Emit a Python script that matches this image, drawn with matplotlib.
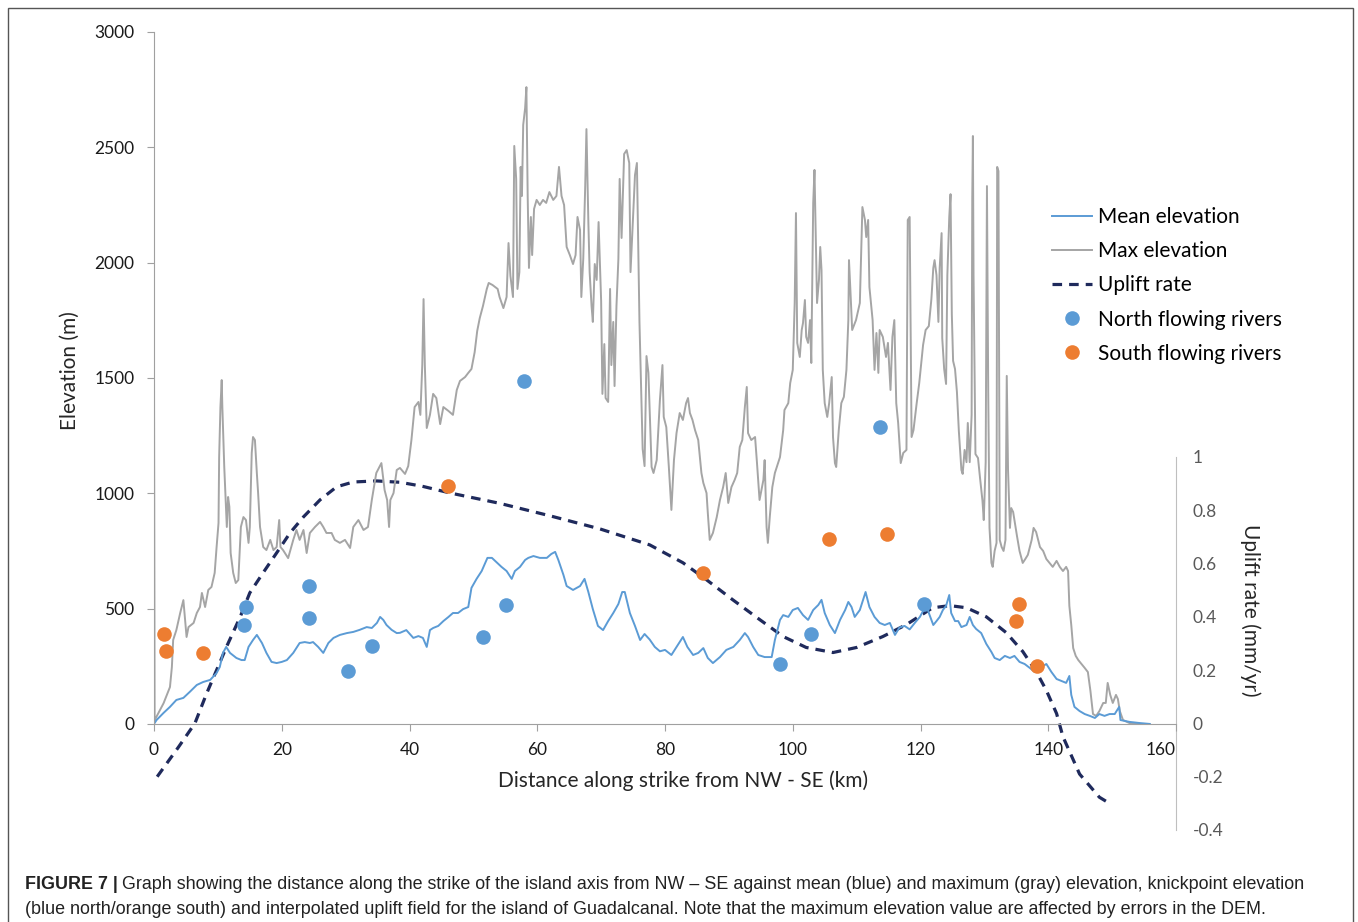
import matplotlib.pyplot as plt
from matplotlib.patches import Rectangle
from matplotlib.ticker import FuncFormatter

plt.rcParams['font.family'] = ['Lato', 'DejaVu Sans']

# distance along strike (km) / maximum elevation (m)
max_km = [0.0, 0.1, 0.4, 1.5, 2.5, 2.8, 3.0, 3.5, 4.1, 4.6, 4.9, 5.1, 5.4, 6.2, 6.7, 7.2, 7.5, 8.0, 8.5, 9.0,
          9.5, 9.8, 10.1, 10.2, 10.4, 10.6, 10.7, 11.0, 11.4, 11.6, 11.8, 12.0, 12.4, 12.8, 13.2, 13.6, 14.0, 14.4,
          14.8, 15.0, 15.3, 15.5, 15.8, 16.1, 16.3, 16.6, 17.1, 17.6, 18.2, 18.7, 19.2, 19.6, 19.8, 20.2, 21.0,
          21.8, 22.3, 22.8, 23.4, 23.9, 24.4, 25.2, 26.0, 26.5, 27.0, 27.8, 28.3, 29.1, 29.9, 30.7, 31.2, 32.0,
          32.8, 33.5, 34.1, 34.8, 35.6, 36.1, 36.5, 36.8, 37.0, 37.5, 38.0, 38.5, 39.3, 39.8, 40.3, 40.8, 41.4,
          41.7, 42.0, 42.2, 42.4, 42.7, 43.2, 43.7, 44.2, 44.8, 45.3, 46.1, 46.8, 47.4, 47.9, 48.7, 49.2, 49.7,
          50.2, 50.6, 51.0, 51.5, 52.1, 52.4, 53.0, 53.8, 54.1, 54.7, 55.2, 55.5, 55.8, 56.2, 56.4, 56.7, 56.9,
          57.2, 57.4, 57.6, 57.8, 58.1, 58.3, 58.5, 58.7, 59.0, 59.2, 59.5, 59.9, 60.4, 60.9, 61.4, 61.9, 62.5,
          63.0, 63.4, 63.8, 64.2, 64.6, 65.1, 65.6, 66.0, 66.3, 66.7, 66.9, 67.2, 67.5, 67.7, 68.0, 68.2, 68.5,
          68.7, 69.0, 69.3, 69.6, 70.0, 70.2, 70.5, 70.7, 71.1, 71.4, 71.6, 71.9, 72.1, 72.4, 72.7, 72.9, 73.2,
          73.6, 74.0, 74.4, 74.6, 74.9, 75.3, 75.6, 76.0, 76.2, 76.5, 76.8, 77.1, 77.4, 77.7, 77.9, 78.2, 78.7,
          79.2, 79.6, 79.8, 80.2, 80.6, 81.0, 81.4, 81.8, 82.3, 82.8, 83.3, 83.6, 83.9, 84.3, 84.7, 85.2, 85.4,
          85.7, 86.0, 86.5, 86.7, 87.0, 87.5, 88.1, 88.6, 89.1, 89.5, 89.9, 90.4, 90.9, 91.3, 91.7, 92.1, 92.5,
          92.8, 93.0, 93.5, 94.1, 94.4, 94.8, 95.4, 95.6, 95.9, 96.1, 96.4, 96.8, 97.2, 98.0, 98.5, 98.7, 99.3,
          99.6, 100.0, 100.3, 100.5, 100.7, 101.1, 101.4, 101.6, 101.9, 102.1, 102.4, 102.7, 102.9, 103.2, 103.4,
          103.6, 103.8, 104.1, 104.3, 104.5, 104.7, 105.0, 105.4, 105.7, 106.1, 106.3, 106.6, 106.8, 107.2, 107.6,
          108.0, 108.4, 108.7, 108.8, 109.0, 109.3, 109.9, 110.5, 110.7, 110.9, 111.3, 111.5, 111.8, 112.0, 112.5,
          112.8, 113.1, 113.4, 113.6, 114.1, 114.6, 114.9, 115.3, 115.6, 115.9, 116.2, 116.5, 116.9, 117.3, 117.8,
          118.0, 118.3, 118.6, 118.9, 119.4, 119.8, 120.4, 120.8, 121.3, 121.7, 122.0, 122.2, 122.5, 122.8, 123.0,
          123.3, 123.4, 123.7, 124.0, 124.2, 124.5, 124.7, 124.9, 125.1, 125.4, 125.7, 126.0, 126.4, 126.6, 126.9,
          127.2, 127.4, 127.7, 128.0, 128.1, 128.2, 128.3, 128.6, 129.0, 129.3, 129.7, 129.9, 130.2, 130.4, 130.6,
          130.8, 131.1, 131.3, 131.6, 131.9, 132.0, 132.2, 132.4, 132.7, 133.0, 133.3, 133.5, 133.7, 134.0, 134.2,
          134.5, 134.7, 135.1, 135.5, 136.0, 136.4, 136.8, 137.4, 137.7, 138.1, 138.7, 139.2, 139.7, 140.2, 140.7,
          141.3, 141.8, 142.3, 142.8, 143.1, 143.3, 143.6, 143.9, 144.3, 144.7, 145.2, 145.7, 146.2, 146.6, 147.0,
          147.5, 148.0, 148.6, 149.0, 149.3, 149.7, 150.1, 150.6, 150.9, 151.2, 151.7, 152.7, 154.3]
max_elev = [1570, 15, 32, 90, 160, 247, 364, 407, 481, 537, 438, 377, 420, 438, 481, 507, 568, 507, 581, 594,
            655, 767, 871, 1157, 1374, 1491, 1374, 1114, 854, 984, 941, 741, 655, 611, 624, 854, 897, 884,
            785, 854, 1175, 1244, 1231, 1088, 1001, 854, 767, 754, 798, 754, 767, 884, 767, 754, 719,
            798, 841, 798, 841, 741, 828, 854, 876, 854, 828, 828, 798, 785, 798, 763, 854, 884,
            841, 854, 971, 1088, 1131, 1014, 971, 854, 971, 1001, 1101, 1110, 1084, 1118, 1231, 1374, 1396,
            1340, 1556, 1842, 1556, 1283, 1340, 1431, 1413, 1300, 1374, 1357, 1340, 1448, 1487, 1504, 1522, 1539,
            1612, 1704, 1760, 1812, 1886, 1912, 1903, 1886, 1851, 1803, 1851, 2085, 1942, 1851, 2506, 2363, 1886,
            1959, 2415, 2289, 2597, 2670, 2761, 2289, 1977, 2198, 2033, 2233, 2272, 2250, 2272, 2259, 2306, 2272,
            2289, 2415, 2289, 2250, 2068, 2033, 1994, 2033, 2198, 2141, 1851, 2016, 2324, 2579, 2176, 1959, 1812,
            1743, 1994, 1925, 2176, 1834, 1431, 1647, 1413, 1396, 1886, 1556, 1743, 1465, 1812, 2016, 2363, 2107,
            2471, 2488, 2432, 1959, 2141, 2380, 2432, 1743, 1522, 1192, 1118, 1595, 1522, 1283, 1114, 1088, 1144,
            1404, 1556, 1331, 1287, 1114, 928, 1144, 1261, 1348, 1318, 1391, 1413, 1348, 1318, 1274, 1231, 1175,
            1088, 1045, 1001, 915, 798, 828, 897, 971, 1027, 1088, 958, 1027, 1058, 1088, 1201, 1231, 1374,
            1461, 1261, 1231, 1244, 1131, 971, 1058, 1144, 854, 785, 897, 1027, 1088, 1157, 1274, 1361, 1391,
            1478, 1535, 1825, 2215, 1652, 1591, 1708, 1738, 1838, 1678, 1652, 1751, 1565, 2258, 2402,
            2111, 1825, 1925, 2068, 1968, 1535, 1391, 1331, 1391, 1504, 1244, 1131, 1114, 1274, 1391,
            1418, 1535, 1751, 2011, 1894, 1708, 1751, 1825, 2042, 2241, 2185, 2111, 2185, 1894, 1751,
            1535, 1695, 1522, 1708, 1678, 1591, 1652, 1448, 1678, 1751, 1391, 1305, 1131, 1175, 1188,
            2185, 2198, 1244, 1274, 1391, 1478, 1643, 1708, 1725, 1842, 1977, 2011, 1946, 1743, 1977,
            2128, 1673, 1539, 1474, 1946, 2198, 2297, 1777, 1574, 1539, 1439, 1270, 1101, 1084, 1188,
            1135, 1305, 1135, 1340, 2280, 2549, 1946, 1170, 1153, 1071, 967, 884, 1135, 2332, 1439,
            850, 698, 681, 750, 785, 2415, 2397, 798, 767, 750, 798, 1509, 1101, 850, 936,
            919, 884, 815, 750, 698, 715, 733, 798, 850, 832, 767, 750, 715, 698, 681,
            707, 681, 663, 681, 663, 512, 429, 329, 295, 277, 260, 243, 225, 143, 43,
            35, 56, 91, 91, 178, 126, 91, 126, 108, 56, 17, 4, 0]

# distance along strike (km) / mean elevation (m)
mean_km = [0.0, 0.4, 1.5, 2.5, 3.5, 4.6, 5.6, 6.7, 7.7, 8.8, 9.8, 10.3, 10.8, 11.3, 11.9, 12.9, 13.7, 14.2,
           14.8, 15.5, 16.1, 16.9, 17.6, 18.4, 19.2, 20.0, 20.8, 21.8, 22.8, 23.6, 24.4, 24.9, 25.7, 26.5,
           27.3, 28.1, 29.1, 30.2, 31.2, 32.2, 33.3, 34.1, 34.9, 35.4, 35.9, 36.4, 37.2, 38.0, 38.5, 39.5,
           40.6, 41.4, 42.1, 42.7, 43.2, 43.7, 44.5, 45.3, 46.1, 46.8, 47.6, 48.4, 49.2, 49.7, 50.5, 51.3,
           52.2, 52.9, 53.6, 54.4, 55.2, 56.0, 56.5, 57.3, 58.1, 58.6, 59.4, 60.4, 61.5, 62.2, 62.8, 63.3,
           64.1, 64.6, 65.6, 66.7, 67.4, 68.0, 68.7, 69.5, 70.3, 71.1, 71.9, 72.7, 73.3, 73.7, 74.5, 75.3,
           76.1, 76.8, 77.6, 78.4, 79.2, 80.0, 81.0, 81.8, 82.8, 83.5, 84.4, 85.2, 86.0, 86.7, 87.5, 88.6,
           89.6, 90.7, 91.7, 92.5, 93.0, 93.8, 94.6, 95.6, 96.7, 97.2, 98.0, 98.5, 99.3, 100.0, 100.8, 101.6,
           102.4, 103.2, 104.0, 104.5, 105.0, 105.8, 106.6, 107.4, 108.2, 108.7, 109.2, 109.7, 110.5, 111.0,
           111.4, 112.0, 112.8, 113.6, 114.4, 115.2, 116.0, 116.7, 117.5, 118.3, 119.1, 119.9, 120.4, 120.8,
           121.3, 122.0, 122.5, 123.0, 123.5, 124.0, 124.5, 124.8, 125.4, 125.9, 126.4, 127.2, 127.7, 128.2,
           128.7, 129.5, 130.3, 131.1, 131.6, 132.4, 133.2, 134.0, 134.7, 135.5, 136.3, 137.1, 137.9, 138.7,
           139.7, 140.5, 141.3, 142.1, 142.8, 143.3, 143.6, 144.1, 144.9, 145.7, 146.5, 147.3, 148.0, 148.8,
           149.6, 150.4, 151.1, 151.3, 152.7, 154.3, 155.9]
mean_elev = [0, 17, 48, 74, 104, 113, 139, 169, 182, 191, 221, 247, 308, 334, 308, 286, 277, 277,
             334, 364, 386, 351, 308, 269, 264, 269, 277, 308, 351, 355, 351, 355, 334, 308,
             351, 373, 386, 394, 399, 408, 420, 416, 438, 464, 451, 429, 408, 394, 395, 407,
             373, 381, 373, 334, 407, 416, 425, 446, 464, 481, 481, 498, 507, 590, 629, 663,
             720, 720, 702, 681, 663, 629, 663, 681, 711, 720, 728, 720, 720, 737, 746, 711,
             646, 598, 581, 598, 629, 572, 498, 425, 407, 446, 481, 520, 572, 572, 481, 425,
             364, 390, 366, 334, 315, 321, 299, 334, 377, 334, 299, 308, 329, 286, 264, 290,
             321, 334, 364, 394, 377, 334, 299, 290, 290, 364, 451, 472, 464, 494, 503, 472,
             451, 494, 516, 538, 481, 429, 394, 451, 494, 529, 507, 464, 494, 538,
             572, 507, 464, 438, 429, 438, 386, 418, 425, 410, 438, 464, 490, 529,
             481, 429, 446, 464, 494, 512, 559, 481, 446, 446, 420, 429, 464, 429,
             412, 394, 347, 312, 286, 277, 295, 286, 295, 269, 260, 243, 225, 243,
             260, 225, 195, 186, 178, 208, 126, 74, 56, 43, 35, 26, 43, 35,
             43, 43, 74, 17, 9, 4, 0]

# interpolated uplift field (mm/yr)
uplift_km = [0.5, 3.8, 6.4, 8.2, 9.8, 11.4, 13.5, 15.0, 17.1, 19.2, 21.3, 23.4, 26.0, 28.6, 31.2, 34.8,
             38.5, 42.0, 46.3, 54.1, 62.0, 69.8, 77.6, 82.8, 86.5, 90.6, 94.8, 98.5, 102.1, 106.3, 110.0,
             114.1, 117.8, 121.9, 124.6, 127.2, 130.3, 133.4, 136.0, 138.1, 139.7, 141.3, 142.3, 144.9,
             148.0, 149.3]
uplift_rate = [-0.20, -0.09, 0.0, 0.11, 0.20, 0.29, 0.40, 0.49, 0.566, 0.64, 0.715, 0.775, 0.839, 0.888,
               0.906, 0.91, 0.905, 0.89, 0.865, 0.826, 0.779, 0.73, 0.67, 0.603, 0.539, 0.464, 0.39,
               0.326, 0.285, 0.266, 0.285, 0.326, 0.371, 0.434, 0.442, 0.434, 0.40, 0.341, 0.27, 0.195,
               0.124, 0.037, -0.05, -0.19, -0.277, -0.296]

# knickpoints
north_km = [14.1, 14.4, 24.3, 24.3, 30.4, 34.1, 51.5, 55.1, 57.9, 98.0, 102.8, 113.6, 120.5]
north_elev = [429, 507, 598, 460, 230, 338, 377, 516, 1487, 260, 390, 1287, 520]
south_km = [1.6, 1.9, 7.7, 46.0, 85.9, 105.6, 114.7, 135.4, 134.9, 138.2]
south_elev = [390, 316, 308, 1032, 655, 802, 824, 520, 446, 251]

blue = '#5b9bd5'
grey = '#a5a5a5'
orange = '#ed7d31'
navy = '#1f2a5c'
axis_grey = '#a0a0a0'
text_dark = '#262626'

fig = plt.figure(figsize=(13.58, 9.22), dpi=100)
ax2 = fig.add_axes([0.1134, 0.0998, 0.7526, 0.4046])
ax = fig.add_axes([0.1134, 0.2148, 0.7526, 0.7505])
ax.patch.set_visible(False)

# uplift on its own short axis on the right
ax2.plot(uplift_km, uplift_rate, color=navy, lw=2.3, linestyle=(0, (3, 2.2)), label='Uplift rate')
ax2.set_xlim(0, 160)
ax2.set_ylim(-0.4, 1.0)
ax2.set_yticks([-0.4, -0.2, 0, 0.2, 0.4, 0.6, 0.8, 1.0])
ax2.yaxis.set_major_formatter(FuncFormatter(lambda v, p: '%g' % round(v, 1)))
ax2.yaxis.tick_right()
ax2.tick_params(axis='y', length=0, pad=12, labelsize=12.5, labelcolor='#595959')
ax2.set_xticks([])
for side in ['left', 'top', 'bottom']:
    ax2.spines[side].set_visible(False)
ax2.spines['right'].set_color('#bfbfbf')
ax2.patch.set_visible(False)

ax.plot(max_km, max_elev, color=grey, lw=1.4, label='Max elevation')
ax.plot(mean_km, mean_elev, color=blue, lw=1.4, label='Mean elevation')
ax.plot(north_km, north_elev, 'o', color=blue, ms=10.5, mec='none', label='North flowing rivers')
ax.plot(south_km, south_elev, 'o', color=orange, ms=10.5, mec='none', label='South flowing rivers')

ax.set_xlim(0, 160)
ax.set_ylim(0, 3000)
ax.set_xticks(range(0, 161, 20))
ax.set_yticks(range(0, 3001, 500))
for side in ['top', 'right']:
    ax.spines[side].set_visible(False)
for side in ['left', 'bottom']:
    ax.spines[side].set_color(axis_grey)
ax.tick_params(axis='both', color=axis_grey, length=5, labelsize=12.5, labelcolor='#1a1a1a')
ax.tick_params(axis='y', pad=9)
ax.tick_params(axis='x', pad=8)
ax.get_xticklabels()[-1].set_horizontalalignment('right')

ax.set_xlabel('Distance along strike from NW - SE (km)', fontsize=15, color=text_dark, va='center')
ax.xaxis.set_label_coords(0.518, -0.082)
ax.set_ylabel('Elevation (m)', fontsize=15, color=text_dark, va='center')
ax.yaxis.set_label_coords(-0.082, 0.51)
fig.text(1250 / 1358, 1 - 610 / 922, 'Uplift rate (mm/yr)', rotation=270, fontsize=15,
         color=text_dark, ha='center', va='center')

h, l = ax.get_legend_handles_labels()
h2, l2 = ax2.get_legend_handles_labels()
handles = [h[1], h[0], h2[0], h[2], h[3]]
labels = [l[1], l[0], l2[0], l[2], l[3]]
fig.legend(handles, labels, loc='upper left', bbox_to_anchor=(1052 / 1358, 1 - 207 / 922),
           frameon=False, fontsize=15, handlelength=1.9, handletextpad=0.3, labelspacing=0.68,
           borderpad=0, borderaxespad=0)

# frame round the figure and caption
fig.add_artist(Rectangle((8 / 1358, -0.01), 1345 / 1358, 1 - 8 / 922 + 0.01, transform=fig.transFigure,
                         fill=False, edgecolor='#555555', lw=1))
cap = ['Liberation Sans', 'DejaVu Sans']
t1 = fig.text(25 / 1358, 1 - 893 / 922, 'FIGURE 7 |', fontsize=12.9, fontweight='bold',
              family=cap, color='#222222', va='bottom')
ax.annotate('Graph showing the distance along the strike of the island axis from NW – SE against mean (blue) '
            'and maximum (gray) elevation, knickpoint elevation', xy=(1, 0), xycoords=t1,
            xytext=(3, 0), textcoords='offset points', va='bottom', fontsize=12.9, family=cap,
            color='#222222', annotation_clip=False)
fig.text(25 / 1358, 1 - 918 / 922, '(blue north/orange south) and interpolated uplift field for the island of '
         'Guadalcanal. Note that the maximum elevation value are affected by errors in the DEM.',
         fontsize=12.9, family=cap, color='#222222', va='bottom')

fig.savefig('out.png', dpi=100)
